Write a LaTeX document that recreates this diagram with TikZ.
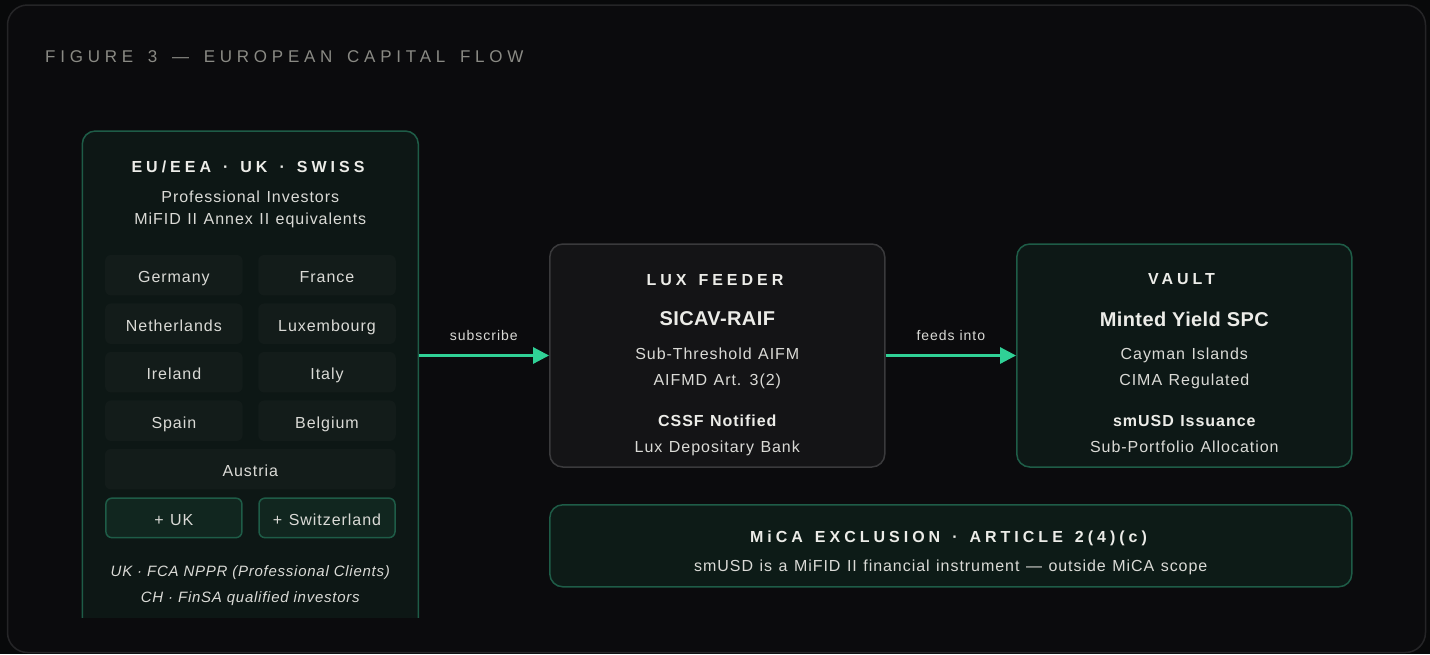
\documentclass[tikz,border=0pt]{standalone}
\usepackage{fontspec}
\setmainfont{Liberation Sans}[LetterSpace=6, WordSpace=1.2]
\newfontfamily\hdrfont{Liberation Sans}[LetterSpace=25, WordSpace=1.42]
\newfontfamily\ttlfont{Liberation Sans}[LetterSpace=28, WordSpace=1.55]
\newfontfamily\bigfont{Liberation Sans}[LetterSpace=2]
\newfontfamily\labfont{Liberation Sans}[LetterSpace=7]
\newfontfamily\itfont{Liberation Sans}[LetterSpace=5]
\usetikzlibrary{arrows.meta}
\definecolor{outerc}{HTML}{08090A}
\definecolor{framef}{HTML}{0B0B0D}
\definecolor{framed}{HTML}{252527}
\definecolor{titlec}{HTML}{8A8A84}
\definecolor{grnfill}{HTML}{0D1715}
\definecolor{grnline}{HTML}{1E5C47}
\definecolor{tilec}{HTML}{131C1A}
\definecolor{ukfill}{HTML}{11261F}
\definecolor{luxfill}{HTML}{141416}
\definecolor{luxline}{HTML}{3A3A3C}
\definecolor{vaultfill}{HTML}{0D1816}
\definecolor{micafill}{HTML}{0D1B17}
\definecolor{arrc}{HTML}{30D196}
\definecolor{hdc}{HTML}{ECECE8}
\definecolor{txc}{HTML}{DADAD6}
\tikzset{
  panelbox/.style={rounded corners=13pt, line width=1.5pt, inner sep=0pt},
  grnbox/.style={panelbox, draw=grnline, fill=grnfill},
  tilebox/.style={rounded corners=6pt, fill=tilec, inner sep=0pt, text height=15pt, text depth=0pt,
     minimum height=40.5pt, text=txc, font=\fontsize{16}{19}\selectfont},
  ukbox/.style={tilebox, fill=ukfill, draw=grnline, line width=1.5pt},
  hdtext/.style={anchor=base, inner sep=0pt, text=hdc, font=\hdrfont\bfseries\fontsize{16}{19}\selectfont},
  bigtext/.style={anchor=base, inner sep=0pt, text=hdc, font=\bigfont\bfseries\fontsize{20}{24}\selectfont},
  semitext/.style={anchor=base, inner sep=0pt, text=hdc, font=\bfseries\fontsize{16}{19}\selectfont},
  bodytext/.style={anchor=base, inner sep=0pt, text=txc, font=\fontsize{16}{19}\selectfont},
  ittext/.style={anchor=base, inner sep=0pt, text=txc, font=\itfont\itshape\fontsize{15}{18}\selectfont},
  labtext/.style={anchor=base, inner sep=0pt, text=txc, font=\labfont\fontsize{14}{17}\selectfont},
  flow/.style={draw=arrc, line width=3pt, -{Triangle[length=16pt, width=16pt]}}
}
\begin{document}
\begin{tikzpicture}[x=1pt, y=-1pt]
\useasboundingbox (0,0) rectangle (1430,654);
\fill[outerc] (0,0) rectangle (1430,654);
\draw[framed, fill=framef, line width=1.5pt, rounded corners=20pt] (7.5,5) rectangle (1425.5,652.5);

\node[anchor=base west, inner sep=0pt, text=titlec, font=\ttlfont\fontsize{17}{20}\selectfont] (title) at (45,62.3) {FIGURE 3 — EUROPEAN CAPITAL FLOW};

% left panel (clipped at bottom)
\begin{scope}
\clip (0,0) rectangle (1430,617.7);
\node[grnbox, minimum width=336pt, minimum height=530pt] (eu) at (250.3,396) {};
\end{scope}
\node[hdtext] (eut) at (248,172.3) {EU/EEA · UK · SWISS};
\node[bodytext] (eus1) at (250.3,202.3) {Professional Investors};
\node[bodytext] (eus2) at (250.3,224.5) {MiFID II Annex II equivalents};

\node[tilebox, minimum width=137.5pt] (de) at (173.9,275.2) {Germany};
\node[tilebox, minimum width=137.5pt] (fr) at (327,275.2) {France};
\node[tilebox, minimum width=137.5pt] (nl) at (173.9,323.7) {Netherlands};
\node[tilebox, minimum width=137.5pt] (lu) at (327,323.7) {Luxembourg};
\node[tilebox, minimum width=137.5pt] (ie) at (173.9,372.2) {Ireland};
\node[tilebox, minimum width=137.5pt] (it) at (327,372.2) {Italy};
\node[tilebox, minimum width=137.5pt] (es) at (173.9,420.7) {Spain};
\node[tilebox, minimum width=137.5pt] (be) at (327,420.7) {Belgium};
\node[tilebox, minimum width=290.7pt] (at) at (250.3,469.2) {Austria};
\node[ukbox, minimum width=136pt, minimum height=39.5pt] (uk) at (173.9,517.9) {+ UK};
\node[ukbox, minimum width=136pt, minimum height=39.5pt] (ch) at (327,517.9) {+ Switzerland};

\node[ittext] (n1) at (250.3,576) {UK · FCA NPPR (Professional Clients)};
\node[ittext] (n2) at (250.3,602) {CH · FinSA qualified investors};

% Lux feeder
\node[panelbox, draw=luxline, fill=luxfill, minimum width=335pt, minimum height=223pt] (lux) at (717.3,355.5) {};
\node[hdtext] (luxt) at (715,285) {LUX FEEDER};
\node[bigtext] (lux1) at (717.3,325.7) {SICAV-RAIF};
\node[bodytext] (lux2) at (717.3,359.3) {Sub-Threshold AIFM};
\node[bodytext] (lux3) at (717.3,385.7) {AIFMD Art. 3(2)};
\node[semitext] (lux4) at (717.3,426.7) {CSSF Notified};
\node[bodytext] (lux5) at (717.3,452.7) {Lux Depositary Bank};

% Vault
\node[grnbox, fill=vaultfill, minimum width=335pt, minimum height=223pt] (vault) at (1184.3,355.5) {};
\node[hdtext] (vt) at (1181.5,284.5) {VAULT};
\node[bigtext] (v1) at (1184.3,326) {Minted Yield SPC};
\node[bodytext] (v2) at (1184.3,359.3) {Cayman Islands};
\node[bodytext] (v3) at (1184.3,385.7) {CIMA Regulated};
\node[semitext] (v4) at (1184.3,426.7) {smUSD Issuance};
\node[bodytext] (v5) at (1184.3,452.7) {Sub-Portfolio Allocation};

% MiCA
\node[grnbox, fill=micafill, minimum width=802pt, minimum height=82pt] (mica) at (950.8,545.8) {};
\node[hdtext] (mt) at (948.5,542.3) {MiCA EXCLUSION · ARTICLE 2(4)(c)};
\node[bodytext] (ms) at (950.8,571.7) {smUSD is a MiFID II financial instrument — outside MiCA scope};

% connectors
\draw[flow] (eu.east |- lux.west) -- (lux.west);
\draw[flow] (lux.east) -- (vault.west);
\node[labtext] (sub) at (483.8,340.5) {subscribe};
\node[labtext] (feed) at (950.8,340.5) {feeds into};
\end{tikzpicture}
\end{document}
